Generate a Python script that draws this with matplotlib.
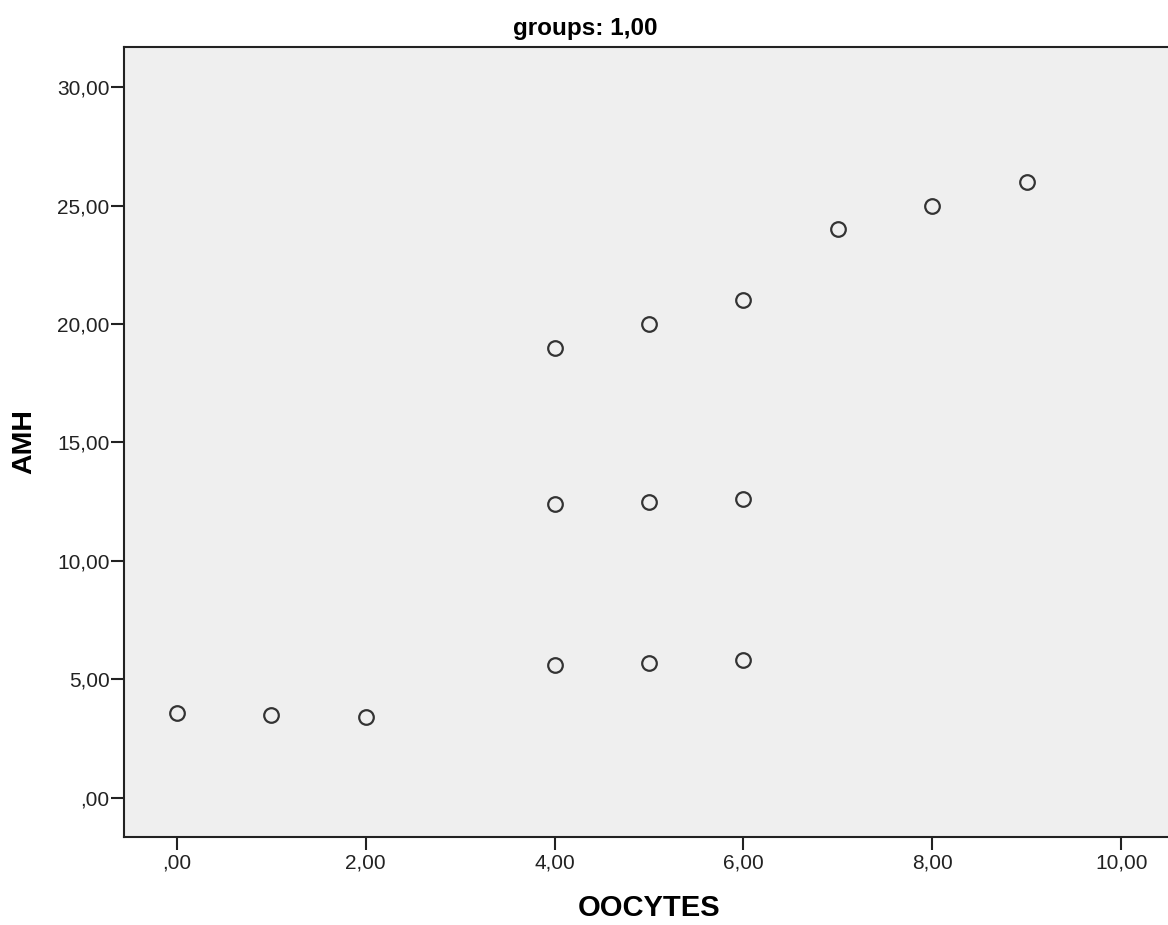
import matplotlib
matplotlib.use('Agg')
import matplotlib.pyplot as plt

# data
oocytes = [0, 1, 2, 4, 5, 6, 4, 5, 6, 4, 5, 6, 7, 8, 9]
amh = [3.6, 3.5, 3.4, 5.6, 5.7, 5.8, 12.4, 12.5, 12.6, 19.0, 20.0, 21.0, 24.0, 25.0, 26.0]

x_ticks = [0, 2, 4, 6, 8, 10]
y_ticks = [0, 5, 10, 15, 20, 25, 30]

def fmt(v):
    s = '%.2f' % v
    s = s.replace('.', ',')
    if s.startswith('0,'):
        s = s[1:]
    return s

plt.rcParams['font.family'] = ['Liberation Sans', 'DejaVu Sans']

fig = plt.figure(figsize=(11.68, 9.25), dpi=100)
ax = fig.add_axes([0.1062, 0.0951, 0.899, 0.8541])
ax.set_facecolor('#efefef')

ax.plot(oocytes, amh, 'o', ls='none', markersize=10.5, markerfacecolor='none',
        markeredgecolor='#333333', markeredgewidth=1.6)

ax.set_xlim(-0.56, 10.56)
ax.set_ylim(-1.65, 31.69)
ax.set_xticks(x_ticks)
ax.set_yticks(y_ticks)
ax.set_xticklabels([fmt(v) for v in x_ticks])
ax.set_yticklabels([fmt(v) for v in y_ticks])
ax.tick_params(axis='both', direction='out', length=9.5, width=1.5, colors='#222222',
               labelsize=15)
ax.tick_params(axis='y', pad=1)
ax.tick_params(axis='x', pad=2)
for side in ax.spines.values():
    side.set_linewidth(1.5)
    side.set_color('#222222')

ax.set_xlabel('OOCYTES', fontsize=21, fontweight='bold', labelpad=16)
ax.set_ylabel('AMH', fontsize=20.5, fontweight='bold', labelpad=14)
fig.text(585 / 1168, 1 - 28 / 925, 'groups: 1,00', ha='center', va='center',
         fontsize=17.5, fontweight='bold')

fig.savefig('out.png', dpi=100)
